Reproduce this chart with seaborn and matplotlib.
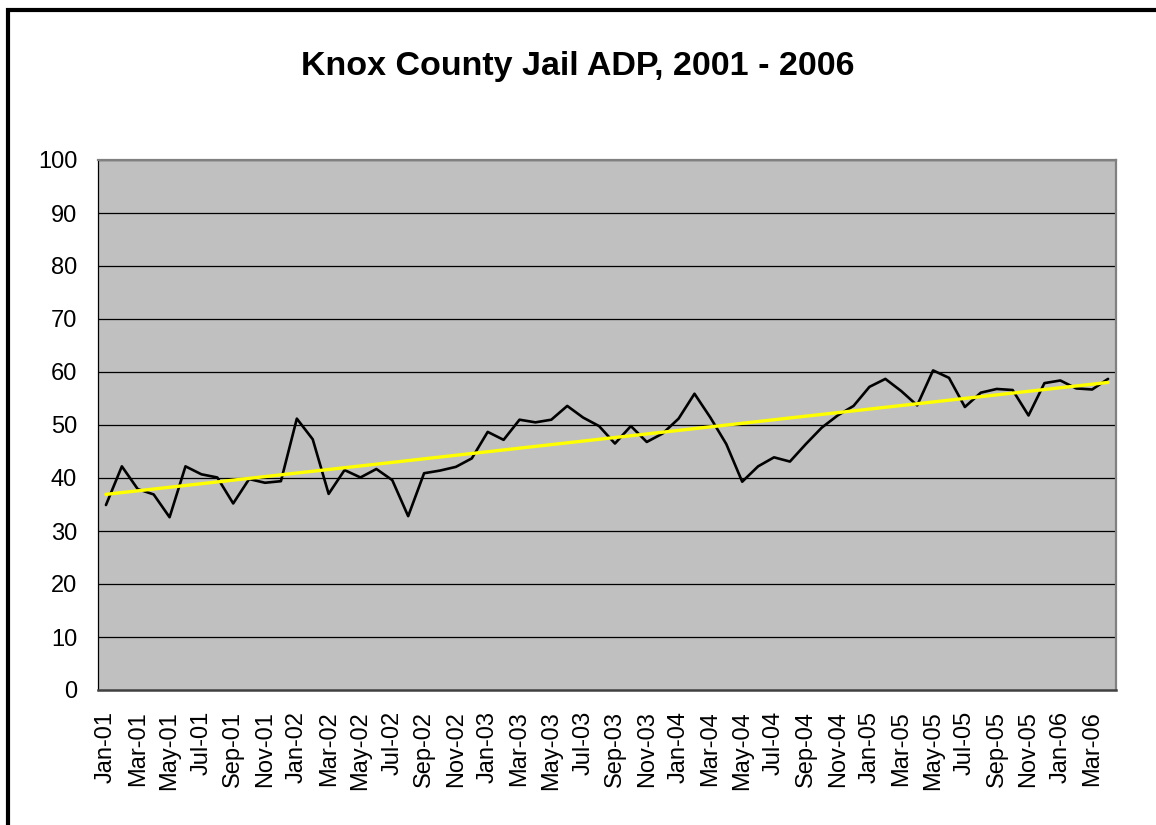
import matplotlib
matplotlib.use('Agg')
import matplotlib.pyplot as plt
from matplotlib.patches import Rectangle
import numpy as np
import pandas as pd
import seaborn as sns

# monthly average daily population, Jan 2001 - Apr 2006
adp = [34.9, 42.2, 37.9, 36.9, 32.6, 42.2, 40.7, 40.1, 35.2, 39.8, 39.1, 39.4,
       51.2, 47.3, 37.0, 41.5, 40.1, 41.7, 39.6, 32.8, 40.9, 41.4, 42.1, 43.7,
       48.7, 47.2, 51.0, 50.5, 51.0, 53.6, 51.4, 49.8, 46.5, 49.8, 46.8, 48.4,
       51.2, 55.9, 51.4, 46.4, 39.3, 42.2, 43.9, 43.1, 46.4, 49.5, 51.8, 53.6,
       57.2, 58.7, 56.4, 53.7, 60.3, 58.9, 53.4, 56.1, 56.8, 56.6, 51.8, 57.9,
       58.4, 56.9, 56.7, 58.7]
months = pd.date_range('2001-01-01', periods=len(adp), freq='MS').strftime('%b-%y').tolist()
y_ticks = list(range(0, 101, 10))
title = 'Knox County Jail ADP, 2001 - 2006'

df = pd.DataFrame({'idx': np.arange(len(adp)), 'month': months, 'adp': adp})
slope, icept = np.polyfit(df['idx'], df['adp'], 1)
df['trend'] = icept + slope * df['idx']

sns.set_style('white', {'axes.facecolor': '#C0C0C0'})
plt.rcParams['font.family'] = ['Liberation Sans', 'DejaVu Sans']
plt.rcParams['text.color'] = 'black'
plt.rcParams['xtick.color'] = 'black'
plt.rcParams['ytick.color'] = 'black'

fig = plt.figure(figsize=(11.56, 8.25), dpi=100)
ax = fig.add_axes([98 / 1156, 1 - 690 / 825, (1116 - 98) / 1156, (690 - 160) / 825])

for v in y_ticks[1:]:
    ax.axhline(v, color='black', lw=0.9, zorder=1)

sns.lineplot(data=df, x='idx', y='adp', color='black', lw=1.9, ax=ax, zorder=3)
sns.lineplot(data=df, x='idx', y='trend', color='#FFFF00', lw=2.4, ax=ax, zorder=4)

ax.set_xlim(-0.5, len(adp) - 0.5)
ax.set_ylim(0, 100)
ax.set_xlabel('')
ax.set_ylabel('')

ax.set_xticks(df['idx'][::2])
ax.set_xticklabels(df['month'][::2], rotation=90, fontsize=17)
ax.set_xticks(np.arange(-0.5, len(adp), 2), minor=True)
ax.tick_params(axis='x', which='major', length=0, pad=15)
ax.tick_params(axis='x', which='minor', length=7, width=1, color='black', direction='out')
ax.set_yticks(y_ticks)
ax.set_yticklabels([str(v) for v in y_ticks], fontsize=17)
ax.tick_params(axis='y', length=8, width=1, color='black', direction='out', pad=7)

ax.spines['left'].set_color('black')
ax.spines['left'].set_linewidth(0.9)
ax.spines['bottom'].set_color('#404040')
ax.spines['bottom'].set_linewidth(1.8)
for s in ['top', 'right']:
    ax.spines[s].set_color('#808080')
    ax.spines[s].set_linewidth(1.6)

fig.text(0.5, 1 - 75 / 825, title, ha='center', va='baseline',
         fontsize=24.5, fontweight='bold')

fig.add_artist(Rectangle((8 / 1156, -0.2), 1.5, 1 - 10 / 825 + 0.2,
                         transform=fig.transFigure, fill=False,
                         edgecolor='black', lw=3))

fig.savefig('out.png', dpi=100)
